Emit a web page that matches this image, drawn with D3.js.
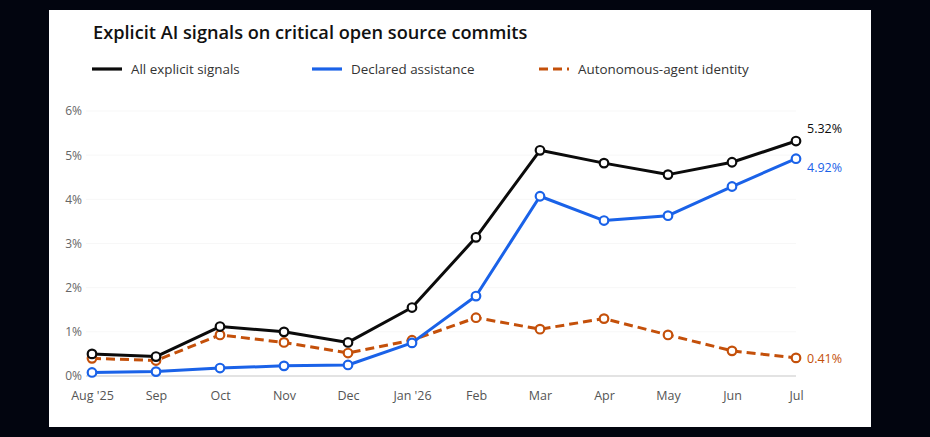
<!DOCTYPE html>
<html>
<head>
<meta charset="utf-8">
<script src="https://cdn.jsdelivr.net/npm/d3@7"></script>
<style>
  html, body { margin: 0; padding: 0; background: #02050f; }
  svg { display: block; font-family: "Open Sans", "Noto Sans", sans-serif; }
</style>
</head>
<body>
<div id="chart"></div>
<script>
// data
var months = ["Aug '25", "Sep", "Oct", "Nov", "Dec", "Jan '26", "Feb", "Mar", "Apr", "May", "Jun", "Jul"];
var allSignals = [0.50, 0.44, 1.12, 1.00, 0.76, 1.55, 3.14, 5.11, 4.82, 4.56, 4.84, 5.32];
var declared   = [0.08, 0.10, 0.18, 0.23, 0.25, 0.75, 1.81, 4.07, 3.52, 3.63, 4.29, 4.92];
var autonomous = [0.40, 0.35, 0.93, 0.76, 0.52, 0.81, 1.32, 1.06, 1.30, 0.93, 0.57, 0.41];
var yTicks = [0, 1, 2, 3, 4, 5, 6];

var series = [
    {name: "All explicit signals", values: allSignals, color: "#0b0b0b", dash: null, legendX: 92},
    {name: "Declared assistance", values: declared, color: "#1a62e8", dash: null, legendX: 312},
    {name: "Autonomous-agent identity", values: autonomous, color: "#c4500a", dash: "9,5", legendX: 539}
];

var W = 930, H = 437;

var svg = d3.select("#chart").append("svg")
    .attr("width", W)
    .attr("height", H);

// white card
svg.append("rect")
    .attr("x", 49).attr("y", 10)
    .attr("width", 822).attr("height", 417)
    .attr("fill", "#ffffff");

svg.append("text")
    .attr("x", 93).attr("y", 39)
    .attr("font-size", 18.2)
    .attr("font-weight", 600)
    .attr("fill", "#111")
    .text("Explicit AI signals on critical open source commits");

// legend
var legend = svg.selectAll(".legend")
    .data(series)
    .enter().append("g")
    .attr("class", "legend")
    .attr("transform", function(d) { return "translate(" + d.legendX + ",69)"; });

legend.append("line")
    .attr("x1", 0).attr("x2", 30)
    .attr("stroke", function(d) { return d.color; })
    .attr("stroke-width", 3.2)
    .attr("stroke-dasharray", function(d) { return d.dash; });

legend.append("text")
    .attr("x", 39).attr("y", 5)
    .attr("font-size", 13.4)
    .attr("fill", "#333")
    .text(function(d) { return d.name; });

var x = d3.scalePoint()
    .domain(months)
    .range([92, 796]);

var y = d3.scaleLinear()
    .domain([0, 6])
    .range([376, 111]);

// gridlines
svg.append("g")
    .selectAll("line")
    .data(yTicks.slice(1))
    .enter().append("line")
    .attr("x1", 86).attr("x2", 796)
    .attr("y1", function(d) { return y(d); })
    .attr("y2", function(d) { return y(d); })
    .attr("stroke", "#f7f7f7")
    .attr("stroke-width", 1);

// y axis labels
var yAxis = svg.append("g")
    .attr("transform", "translate(82,0)")
    .call(d3.axisLeft(y).tickValues(yTicks).tickSize(0).tickPadding(0)
        .tickFormat(function(d) { return d + "%"; }));
yAxis.select(".domain").remove();
yAxis.selectAll("text")
    .attr("font-family", "'Open Sans', 'Noto Sans', sans-serif")
    .attr("font-size", 12)
    .attr("fill", "#666");

// x axis
var xAxis = svg.append("g")
    .attr("transform", "translate(0,376)")
    .call(d3.axisBottom(x).tickSize(0).tickPadding(15));
xAxis.select(".domain")
    .attr("d", "M86,0H796")
    .attr("stroke", "#c8c8c8")
    .attr("stroke-width", 1.2);
xAxis.selectAll("text")
    .attr("font-family", "'Open Sans', 'Noto Sans', sans-serif")
    .attr("font-size", 12.5)
    .attr("fill", "#555");

var line = d3.line()
    .x(function(d, i) { return x(months[i]); })
    .y(function(d) { return y(d); });

// draw back to front: orange, blue, black
var order = [series[2], series[1], series[0]];

var groups = svg.selectAll(".series")
    .data(order)
    .enter().append("g")
    .attr("class", "series");

groups.append("path")
    .attr("fill", "none")
    .attr("stroke", function(d) { return d.color; })
    .attr("stroke-width", 3)
    .attr("stroke-linejoin", "round")
    .attr("stroke-dasharray", function(d) { return d.dash; })
    .attr("d", function(d) { return line(d.values); });

groups.selectAll("circle")
    .data(function(d) { return d.values.map(function(v, i) { return {v: v, i: i, color: d.color}; }); })
    .enter().append("circle")
    .attr("cx", function(d) { return x(months[d.i]); })
    .attr("cy", function(d) { return y(d.v); })
    .attr("r", 4.3)
    .attr("fill", "#fff")
    .attr("stroke", function(d) { return d.color; })
    .attr("stroke-width", 2.2);

// end labels
var endOffset = [-8, 13, 5];
svg.selectAll(".endlabel")
    .data(series)
    .enter().append("text")
    .attr("class", "endlabel")
    .attr("x", 807)
    .attr("y", function(d, i) { return y(d.values[d.values.length - 1]) + endOffset[i]; })
    .attr("font-size", 12.5)
    .attr("font-weight", 500)
    .attr("fill", function(d) { return d.color; })
    .text(function(d) { return d.values[d.values.length - 1].toFixed(2) + "%"; });
</script>
</body>
</html>
